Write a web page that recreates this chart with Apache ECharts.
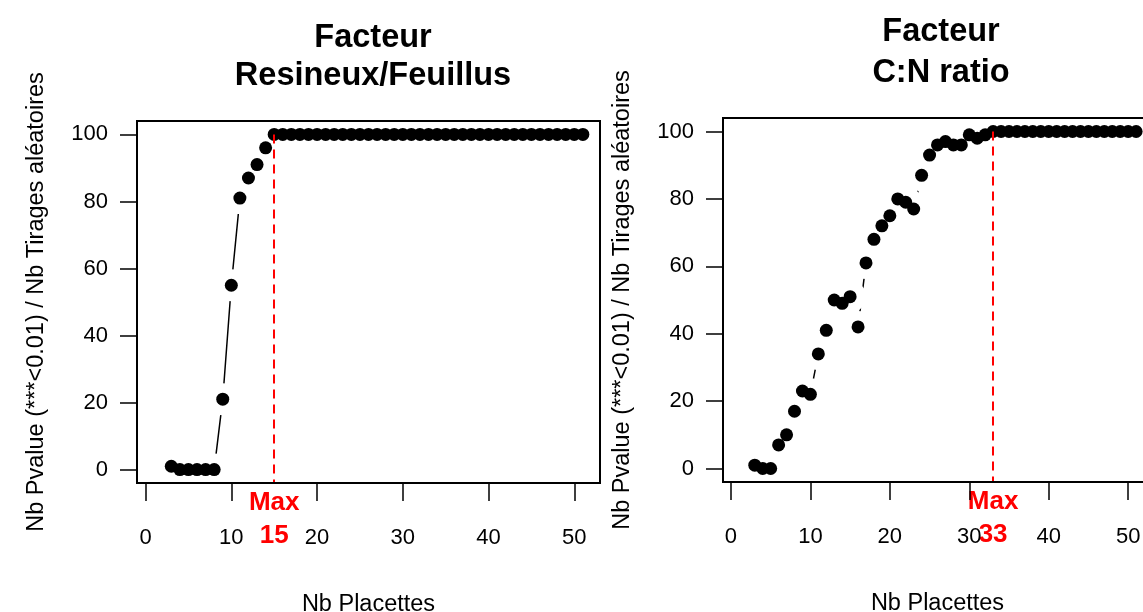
<!DOCTYPE html>
<html>
<head>
<meta charset="utf-8">
<script src="https://cdn.jsdelivr.net/npm/echarts@6/dist/echarts.min.js"></script>
<style>
  html, body { margin: 0; padding: 0; background: #fff; }
  #chart { width: 1143px; height: 612px; }
</style>
</head>
<body>
<div id="chart"></div>
<script>
// abscisses : nombre de placettes tirées
const nbPlacettes = [3, 4, 5, 6, 7, 8, 9, 10, 11, 12, 13, 14, 15, 16, 17, 18, 19, 20, 21, 22, 23, 24, 25, 26, 27,
  28, 29, 30, 31, 32, 33, 34, 35, 36, 37, 38, 39, 40, 41, 42, 43, 44, 45, 46, 47, 48, 49, 50, 51];
// Facteur Resineux/Feuillus
const resineuxFeuillus = [1, 0, 0, 0, 0, 0, 21, 55, 81, 87, 91, 96, 100, 100, 100, 100, 100, 100, 100, 100, 100, 100, 100, 100, 100,
  100, 100, 100, 100, 100, 100, 100, 100, 100, 100, 100, 100, 100, 100, 100, 100, 100, 100, 100, 100, 100, 100, 100, 100];
// Facteur C:N ratio
const cnRatio = [1, 0, 0, 7, 10, 17, 23, 22, 34, 41, 50, 49, 51, 42, 61, 68, 72, 75, 80, 79, 77, 87, 93, 96, 97,
  96, 96, 99, 98, 99, 100, 100, 100, 100, 100, 100, 100, 100, 100, 100, 100, 100, 100, 100, 100, 100, 100, 100, 100];
const maxPlacettes = [15, 33];
const titres = ['Facteur\nResineux/Feuillus', 'Facteur\nC:N ratio'];
const xTicks = [0, 10, 20, 30, 40, 50];
const yTicks = [0, 20, 40, 60, 80, 100];

const FONT = '"Liberation Sans", Arial, sans-serif';
const chart = echarts.init(document.getElementById('chart'), null, { renderer: 'canvas' });

const grids = [
  { left: 137, top: 121, width: 463, height: 362 },
  { left: 723, top: 118, width: 429, height: 364 }
];

function pts(values) {
  return nbPlacettes.map((x, i) => [x, values[i]]);
}

function xAxisFor(idx) {
  return {
    type: 'value', gridIndex: idx, min: -1, max: 53, z: 10,
    name: 'Nb Placettes', nameLocation: 'middle', nameGap: 110,
    nameTextStyle: { fontFamily: FONT, fontSize: 23.5, color: '#000' },
    splitLine: { show: false },
    axisLine: { show: false, onZero: false },
    axisTick: { show: true, length: 18, lineStyle: { color: '#000', width: 1.5 }, customValues: xTicks },
    axisLabel: { fontFamily: FONT, fontSize: 22, color: '#000', margin: 44, customValues: xTicks }
  };
}

function yAxisFor(idx) {
  return {
    type: 'value', gridIndex: idx, min: -4, max: 104, z: 10,
    name: 'Nb Pvalue (***<0.01) / Nb Tirages aléatoires', nameLocation: 'middle', nameGap: 88, nameRotate: 90,
    nameTextStyle: { fontFamily: FONT, fontSize: 23.5, color: '#000' },
    splitLine: { show: false },
    axisLine: { show: false, onZero: false },
    axisTick: { show: true, length: 17, lineStyle: { color: '#000', width: 1.5 }, customValues: yTicks },
    axisLabel: { fontFamily: FONT, fontSize: 22, color: '#000', margin: 29, customValues: yTicks }
  };
}

function seriesFor(idx, values) {
  const data = pts(values);
  return [
    // trait type "b"
    { type: 'line', xAxisIndex: idx, yAxisIndex: idx, data: data, symbol: 'none', z: 2,
      lineStyle: { color: '#000', width: 1.5 }, silent: true, animation: false },
    // blanc autour des points pour couper le trait
    { type: 'scatter', xAxisIndex: idx, yAxisIndex: idx, data: data, symbolSize: 32, z: 3,
      itemStyle: { color: '#fff', opacity: 1 }, silent: true, animation: false },
    { type: 'scatter', xAxisIndex: idx, yAxisIndex: idx, data: data, symbolSize: 13, z: 4,
      itemStyle: { color: '#000', opacity: 1 }, animation: false,
      markLine: {
        silent: true, symbol: 'none', animation: false,
        lineStyle: { color: '#ff0000', width: 2, type: [9, 6], opacity: 1 },
        label: {
          show: true, position: 'end', distance: 3,
          formatter: 'Max\n' + maxPlacettes[idx],
          color: '#ff0000', fontFamily: FONT, fontWeight: 'bold', fontSize: 26, lineHeight: 33
        },
        data: [[{ coord: [maxPlacettes[idx], 100] }, { coord: [maxPlacettes[idx], -4] }]]
      }
    }
  ];
}

chart.setOption({
  backgroundColor: '#fff',
  animation: false,
  title: [
    { text: titres[0], left: 368, top: 14, textAlign: 'center',
      textStyle: { fontFamily: FONT, fontWeight: 'bold', fontSize: 32.5, lineHeight: 38, color: '#000' } },
    { text: titres[1], left: 936, top: 7, textAlign: 'center',
      textStyle: { fontFamily: FONT, fontWeight: 'bold', fontSize: 32.5, lineHeight: 41, color: '#000' } }
  ],
  grid: grids.map(g => Object.assign({ show: true, z: 10, borderColor: '#000', borderWidth: 2,
    backgroundColor: 'transparent', containLabel: false, outerBoundsMode: 'none' }, g)),
  xAxis: [xAxisFor(0), xAxisFor(1)],
  yAxis: [yAxisFor(0), yAxisFor(1)],
  series: [].concat(seriesFor(0, resineuxFeuillus), seriesFor(1, cnRatio))
});
</script>
</body>
</html>
